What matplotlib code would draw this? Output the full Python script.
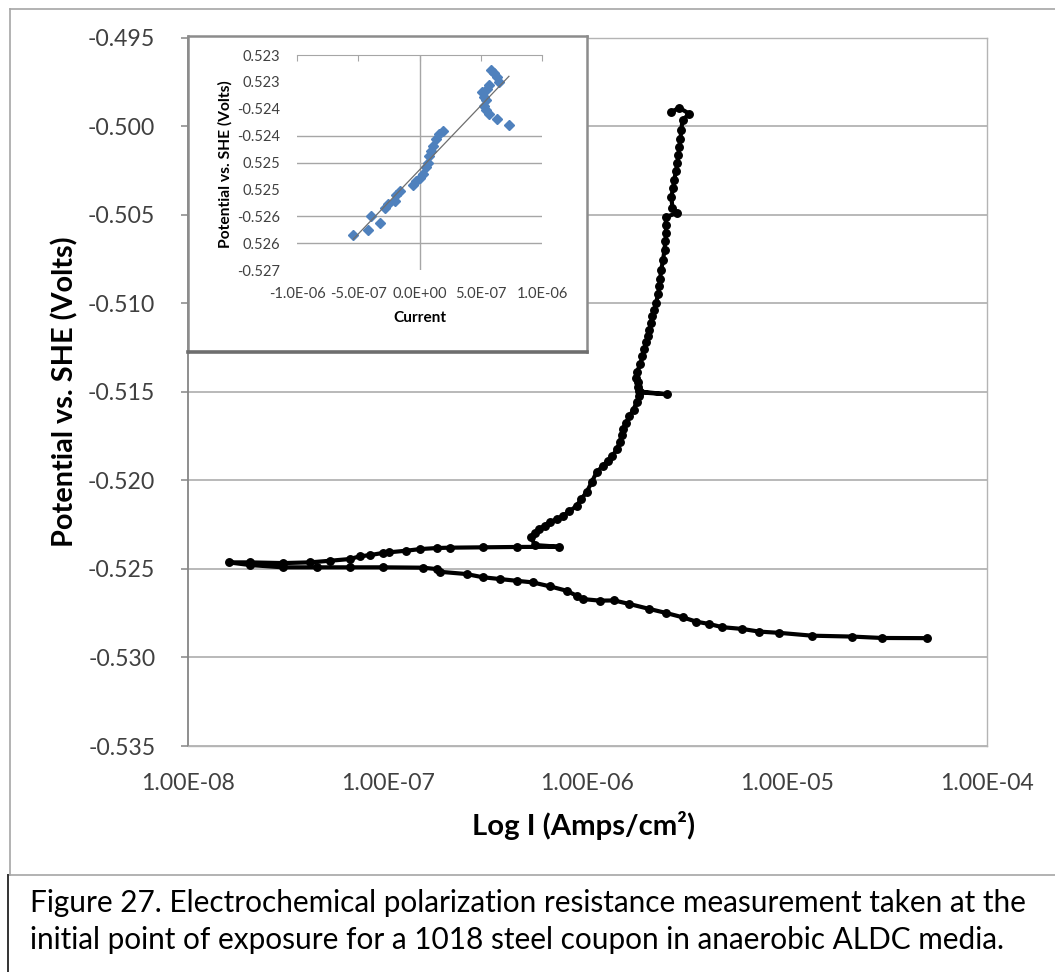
import matplotlib
matplotlib.use("Agg")
import matplotlib.pyplot as plt
from matplotlib.lines import Line2D
from matplotlib.ticker import NullLocator
import numpy as np

plt.rcParams['font.family'] = ['Lato', 'DejaVu Sans']

# main curve : cathodic branch (right -> left), back along the upper branch, then anodic rise
current = [5.01e-5, 2.99e-5, 2.11e-5, 1.33e-5, 9.12e-6, 7.24e-6, 5.96e-6, 4.73e-6,
           4.07e-6, 3.51e-6, 2.99e-6, 2.48e-6, 2.04e-6, 1.62e-6, 1.36e-6, 1.15e-6,
           9.44e-7, 8.81e-7, 7.85e-7, 6.46e-7, 5.31e-7, 4.42e-7, 3.63e-7, 2.99e-7,
           2.48e-7, 1.82e-7, 1.76e-7, 1.50e-7, 9.44e-8, 6.46e-8, 4.42e-8, 2.99e-8,
           2.04e-8, 1.60e-8,
           2.04e-8, 2.99e-8, 4.07e-8, 5.13e-8, 6.46e-8, 7.24e-8, 8.13e-8, 9.44e-8,
           1.02e-7, 1.24e-7, 1.45e-7, 1.76e-7, 2.04e-7, 2.99e-7, 4.42e-7, 7.24e-7,
           5.43e-7, 5.24e-7,
           5.45e-7, 5.75e-7, 6.10e-7, 6.46e-7, 7.00e-7, 7.50e-7, 8.10e-7, 8.81e-7,
           9.30e-7, 9.89e-7, 1.05e-6, 1.11e-6, 1.19e-6, 1.26e-6, 1.33e-6, 1.40e-6,
           1.45e-6, 1.48e-6, 1.50e-6, 1.56e-6, 1.62e-6, 1.70e-6, 1.76e-6, 1.82e-6,
           1.84e-6, 2.51e-6, 1.82e-6, 1.78e-6, 1.78e-6, 1.74e-6, 1.76e-6, 1.84e-6,
           1.88e-6, 1.92e-6, 1.97e-6, 2.00e-6, 2.04e-6, 2.08e-6, 2.11e-6, 2.16e-6,
           2.21e-6, 2.25e-6, 2.29e-6, 2.31e-6, 2.34e-6, 2.39e-6, 2.43e-6, 2.45e-6,
           2.48e-6, 2.46e-6, 2.48e-6, 2.79e-6, 2.66e-6, 2.63e-6, 2.68e-6, 2.72e-6,
           2.77e-6, 2.82e-6, 2.85e-6, 2.88e-6, 2.92e-6, 2.95e-6, 2.99e-6, 3.24e-6,
           2.88e-6, 2.63e-6]
potential = [-0.52891, -0.52890, -0.52882, -0.52877, -0.52861, -0.52854, -0.52839, -0.52829,
             -0.52811, -0.52798, -0.52773, -0.52749, -0.52726, -0.52698, -0.52678, -0.52679,
             -0.52670, -0.52651, -0.52623, -0.52598, -0.52576, -0.52567, -0.52557, -0.52547,
             -0.52529, -0.52516, -0.52501, -0.52493, -0.52491, -0.52491, -0.52491, -0.52491,
             -0.52478, -0.52463,
             -0.52463, -0.52467, -0.52463, -0.52454, -0.52444, -0.52429, -0.52422, -0.52410,
             -0.52406, -0.52397, -0.52388, -0.52382, -0.52380, -0.52378, -0.52376, -0.52375,
             -0.52365, -0.52320,
             -0.52295, -0.52275, -0.52255, -0.52236, -0.52220, -0.52202, -0.52175, -0.52145,
             -0.52105, -0.52067, -0.52010, -0.51954, -0.51920, -0.51890, -0.51864, -0.51825,
             -0.51785, -0.51745, -0.51711, -0.51675, -0.51638, -0.51600, -0.51559, -0.51525,
             -0.51503, -0.51514, -0.51498, -0.51470, -0.51446, -0.51420, -0.51390, -0.51345,
             -0.51300, -0.51260, -0.51221, -0.51185, -0.51148, -0.51110, -0.51074, -0.51035,
             -0.50996, -0.50950, -0.50905, -0.50860, -0.50810, -0.50755, -0.50697, -0.50650,
             -0.50601, -0.50555, -0.50511, -0.50492, -0.50460, -0.50398, -0.50350, -0.50302,
             -0.50255, -0.50206, -0.50160, -0.50116, -0.50070, -0.50020, -0.49964, -0.49930,
             -0.49896, -0.49919]

x_ticks = [1e-8, 1e-7, 1e-6, 1e-5, 1e-4]
x_tick_labels = ['1.00E-08', '1.00E-07', '1.00E-06', '1.00E-05', '1.00E-04']
y_ticks = [-0.535, -0.530, -0.525, -0.520, -0.515, -0.510, -0.505, -0.500, -0.495]

# inset : linear polarization near Ecorr
inset_current = [-5.41e-7, -4.19e-7, -3.92e-7, -3.24e-7, -2.84e-7, -2.57e-7, -2.03e-7,
                 -1.89e-7, -1.62e-7, -0.54e-7, -0.27e-7, 0.0, 0.27e-7, 0.54e-7, 0.68e-7,
                 0.81e-7, 0.95e-7, 1.08e-7, 1.35e-7, 1.62e-7, 1.89e-7,
                 5.14e-7, 5.27e-7, 5.41e-7, 5.54e-7, 5.68e-7, 5.81e-7, 6.08e-7, 6.35e-7,
                 6.49e-7, 5.27e-7, 5.41e-7, 5.68e-7, 6.35e-7, 7.30e-7]
inset_potential = [-0.52634, -0.52625, -0.52600, -0.52613, -0.52584, -0.52578, -0.52572,
                   -0.52560, -0.52553, -0.52541, -0.52534, -0.52528, -0.52522, -0.52509, -0.52500,
                   -0.52488, -0.52478, -0.52469, -0.52456, -0.52447, -0.52441,
                   -0.52369, -0.52378, -0.52384, -0.52363, -0.52356, -0.52328, -0.52334, -0.52341,
                   -0.52350, -0.52394, -0.52403, -0.52409, -0.52419, -0.52431]
inset_x_ticks = [-1e-6, -5e-7, 0.0, 5e-7, 1e-6]
inset_x_labels = ['-1.0E-06', '-5.0E-07', '0.0E+00', '5.0E-07', '1.0E-06']
inset_y_ticks = [-0.5270, -0.5265, -0.5260, -0.5255, -0.5250, -0.5245, -0.5240, -0.5235, -0.5230]
inset_y_labels = ['-0.527', '0.526', '-0.526', '0.525', '0.525', '-0.524', '-0.524', '0.523', '0.523']
inset_grid = [-0.5265, -0.5260, -0.5250, -0.5245]

caption1 = 'Figure 27. Electrochemical polarization resistance measurement taken at the'
caption2 = 'initial point of exposure for a 1018 steel coupon in anaerobic ALDC media.'

W, H = 1055, 972
fig = plt.figure(figsize=(W / 100, H / 100), dpi=100)
fig.patch.set_facecolor('white')


def box(x0, y0, x1, y1):
    return [x0 / W, 1 - y1 / H, (x1 - x0) / W, (y1 - y0) / H]


def fit(t, target):
    # scale font so the text spans target pixels
    r = fig.canvas.get_renderer()
    bb = t.get_window_extent(renderer=r)
    size = max(bb.width, bb.height) if t.get_rotation() else bb.width
    t.set_fontsize(t.get_fontsize() * target / size)


# ---- main chart
ax = fig.add_axes(box(188, 37.7, 987, 746))
ax.plot(current, potential, '-o', color='black', lw=3.0, ms=5.4)
ax.set_xscale('log')
ax.set_xlim(1e-8, 1e-4)
ax.set_ylim(-0.535, -0.495)
ax.set_xticks(x_ticks)
ax.set_xticklabels(x_tick_labels)
ax.xaxis.set_minor_locator(NullLocator())
ax.set_yticks(y_ticks)
ax.set_yticklabels(['%.3f' % v for v in y_ticks])
ax.grid(axis='y', color='#A6A6A6', lw=1.1)
ax.set_axisbelow(True)
for s in ['top', 'right', 'bottom']:
    ax.spines[s].set_color('#B4B4B4')
    ax.spines[s].set_linewidth(1.0)
ax.spines['left'].set_color('#868686')
ax.spines['left'].set_linewidth(1.3)
ax.tick_params(axis='y', direction='out', length=5, width=1.1, color='#868686',
               pad=18.5, labelsize=16.5, labelcolor='#404040')
ax.tick_params(axis='x', length=0, pad=19.5, labelsize=16.5, labelcolor='#404040')

ylab = fig.text(65 / W, 1 - 392 / H, 'Potential vs. SHE (Volts)', rotation=90,
                ha='center', va='center', fontsize=18, fontweight='bold')
fit(ylab, 311)
xlab = fig.text(584 / W, 1 - 826 / H, 'Log I (Amps/cm²)', ha='center', va='center',
                fontsize=18, fontweight='bold')
fit(xlab, 222)

# ---- inset
fa = fig.add_axes(box(188, 36, 587, 352))
fa.set_facecolor('white')
fa.set_xticks([])
fa.set_yticks([])
for s in fa.spines.values():
    s.set_color('#8C8C8C')
    s.set_linewidth(1.8)
fa.spines['bottom'].set_linewidth(2.6)
fa.spines['bottom'].set_color('#6E6E6E')

ia = fig.add_axes(box(297, 55, 542, 270))
ia.patch.set_alpha(0)
for g in inset_grid:
    ia.axhline(g, color='#A6A6A6', lw=1.0, zorder=0)
ia.axvline(0, color='#A6A6A6', lw=1.0, zorder=0)
ia.plot(inset_current, inset_potential, 'D', color='#4F81BD', ms=5.4, zorder=2)
coef = np.polyfit(inset_current, inset_potential, 1)
xs = np.array([min(inset_current), max(inset_current)])
ia.plot(xs, np.polyval(coef, xs), color='#6E6E6E', lw=0.9, zorder=3)
ia.set_xlim(-1e-6, 1e-6)
ia.set_ylim(-0.527, -0.523)
ia.set_xticks(inset_x_ticks)
ia.set_xticklabels(inset_x_labels)
ia.set_yticks(inset_y_ticks)
ia.set_yticklabels(inset_y_labels)
for s in ['left', 'right', 'bottom']:
    ia.spines[s].set_visible(False)
ia.spines['top'].set_color('#A6A6A6')
ia.tick_params(axis='x', top=True, bottom=False, direction='in', length=4, color='#A6A6A6',
               labelbottom=True, labeltop=False, pad=12, labelsize=10.5, labelcolor='#404040')
ia.tick_params(axis='y', length=0, pad=12, labelsize=10.5, labelcolor='#404040')

# tick label sizes matched to the label widths of the picture
fig.canvas.draw()
w = ax.get_xticklabels()[-1].get_window_extent().width
ax.tick_params(labelsize=16.5 * 93 / w)
w = ia.get_xticklabels()[0].get_window_extent().width
ia.tick_params(labelsize=10.5 * 57 / w)

iylab = fig.text(225 / W, 1 - 164 / H, 'Potential vs. SHE (Volts)', rotation=90,
                 ha='center', va='center', fontsize=10, fontweight='bold')
fit(iylab, 168)
ixlab = fig.text(420 / W, 1 - 318 / H, 'Current', ha='center', va='center',
                 fontsize=10, fontweight='bold')
fit(ixlab, 53)

# ---- frames and caption
fig.add_artist(Line2D([10 / W, 10 / W], [1 - 9 / H, 1 - 875 / H], color='#A6A6A6', lw=1.2))
fig.add_artist(Line2D([10 / W, 1], [1 - 9 / H, 1 - 9 / H], color='#A6A6A6', lw=1.2))
fig.add_artist(Line2D([8 / W, 1], [1 - 875 / H, 1 - 875 / H], color='#A6A6A6', lw=1.2))
fig.add_artist(Line2D([8 / W, 8 / W], [1 - 875 / H, 0], color='#333333', lw=1.4))

c1 = fig.text(30 / W, 1 - 912 / H, caption1, ha='left', va='baseline', fontsize=17, color='black')
fit(c1, 994)
fig.text(30 / W, 1 - 949 / H, caption2, ha='left', va='baseline',
         fontsize=c1.get_fontsize(), color='black')

fig.savefig('out.png', dpi=100, facecolor='white')
